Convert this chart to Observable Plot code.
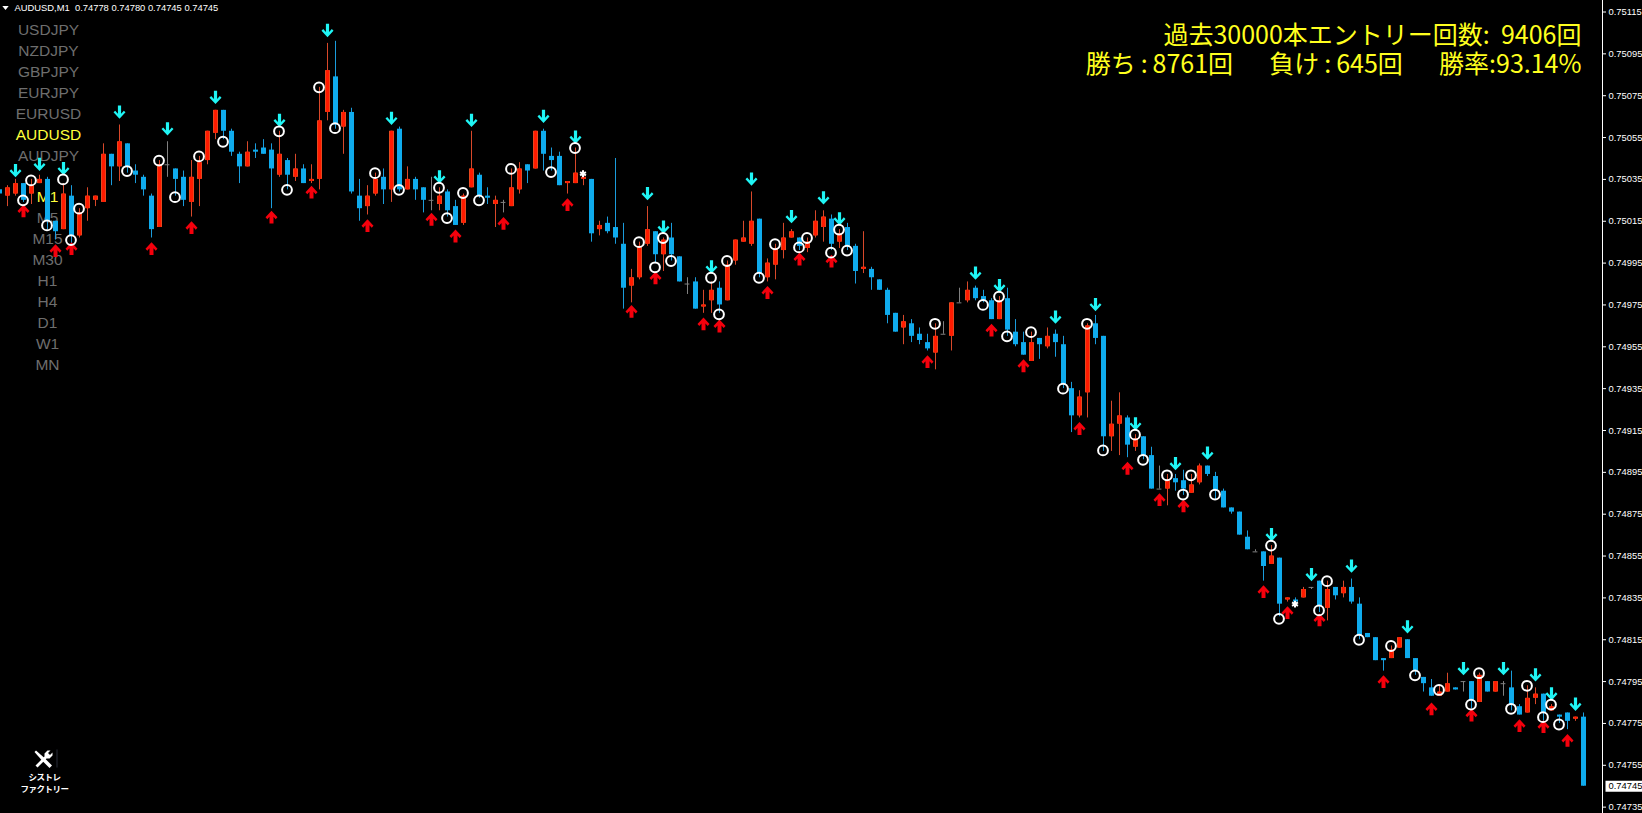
<!DOCTYPE html>
<html><head><meta charset="utf-8">
<script src="https://cdn.jsdelivr.net/npm/d3@7"></script>
<script src="https://cdn.jsdelivr.net/npm/@observablehq/plot@0.6"></script>
<style>html,body{margin:0;padding:0;background:#000;overflow:hidden}svg{display:block}</style>
</head><body><div id="chart"></div>
<script>
// Prices in points (1 point = 0.00001). First bar is number -1 (cut by the left edge).
const firstBar = -1;
const openPts = [75030,
75027,75028,75033,75028,75033,75035,75015,75011,75027,75008,
75021,75025,75024,75047,75041,75052,75039,75036,75027,75012,
75042,75040,75036,75024,75035,75044,75057,75068,75058,75047,
75041,75049,75050,75049,75037,75044,75036,75040,75034,75035,
75067,75084,75060,75067,75027,75022,75028,75036,75030,75059,
75030,75035,75031,75025,75023,75029,75022,75014,75031,75037,
75027,75023,75024,75022,75030,75042,75040,75058,75046,75046,
75033,75033,75035,75035,75011,75014,75012,75004,74984,74988,
75004,75010,74999,75007,74998,74985,74986,74974,74977,74983,
74977,74996,75005,75004,75016,74988,74994,75001,75007,75007,
75002,75008,75012,75016,75005,75012,75003,74992,74992,74987,
74982,74971,74964,74966,74961,74957,74952,74961,74960,74976,
74977,74983,74979,74977,74968,74978,74962,74957,74948,74959,
74955,74961,74956,74935,74922,74933,74966,74960,74912,74918,
74921,74907,74912,74903,74887,74887,74892,74891,74885,74890,
74898,74893,74886,74878,74876,74864,74857,74857,74851,74854,
74834,74834,74835,74840,74843,74830,74840,74837,74840,74832,
74818,74816,74806,74806,74811,74815,74806,74797,74792,74788,
74790,74792,74795,74795,74785,74795,74790,74794,74792,74783,
74780,74787,74789,74781,74779,74780,74777,74778];
const highPts = [75030,
75032,75035,75033,75035,75037,75036,75015,75033,75032,75021,
75031,75027,75052,75047,75061,75052,75042,75037,75028,75044,
75053,75040,75039,75044,75046,75058,75068,75068,75059,75048,
75053,75052,75054,75052,75058,75045,75047,75042,75042,75079,
75100,75101,75068,75069,75035,75032,75038,75040,75058,75060,
75041,75036,75031,75036,75031,75030,75025,75028,75058,75038,
75031,75027,75025,75040,75043,75042,75058,75059,75050,75048,
75034,75050,75039,75035,75015,75017,75045,75014,74992,75005,
75022,75010,75007,75014,74998,74988,74988,74982,74986,74986,
74996,75006,75015,75029,75016,74997,75004,75014,75011,75007,
75007,75020,75020,75018,75011,75014,75004,75010,74993,74987,
74983,74971,74970,74968,74964,74961,74966,74967,74976,74983,
74986,74984,74982,74978,74979,74983,74968,74962,74962,74959,
74964,74963,74960,74938,74934,74966,74970,74960,74929,74933,
74922,74913,74912,74907,74898,74894,74894,74896,74894,74899,
74898,74895,74887,74878,74876,74867,74858,74857,74860,74854,
74835,74835,74840,74840,74843,74843,74840,74843,74844,74835,
74818,74816,74806,74812,74816,74815,74806,74797,74796,74793,
74799,74792,74795,74795,74799,74795,74795,74795,74800,74784,
74793,74792,74789,74784,74779,74780,74778,74780];
const lowPts = [75028,
75022,75027,75024,75023,75033,75011,75006,75011,75004,75007,
75015,75022,75024,75032,75034,75038,75033,75027,75007,75012,
75036,75027,75022,75017,75022,75042,75054,75054,75046,75033,
75041,75045,75047,75021,75036,75030,75034,75033,75033,75030,
75063,75059,75047,75028,75015,75018,75027,75023,75024,75029,
75030,75025,75019,75020,75020,75017,75013,75013,75031,75026,
75023,75012,75019,75022,75028,75033,75040,75039,75039,75032,
75028,75033,75032,75005,75008,75009,75004,74973,74976,74987,
75003,74995,74991,74996,74986,74980,74973,74971,74971,74971,
74977,74994,75005,75003,74988,74986,74987,74997,75007,75001,
75000,75007,75005,75001,75002,75001,74985,74990,74982,74982,
74966,74962,74956,74957,74956,74953,74944,74961,74953,74976,
74976,74977,74976,74968,74968,74960,74955,74951,74948,74949,
74954,74950,74935,74914,74921,74921,74956,74905,74905,74903,
74902,74905,74901,74887,74887,74879,74886,74884,74885,74889,
74893,74882,74878,74875,74865,74858,74857,74843,74851,74826,
74833,74831,74835,74839,74828,74824,74834,74835,74832,74815,
74816,74805,74800,74806,74811,74806,74798,74790,74788,74788,
74790,74791,74790,74782,74785,74790,74790,74788,74781,74779,
74780,74784,74776,74781,74775,74772,74776,74745];
const closePts = [75028,
75031,75033,75025,75032,75035,75015,75010,75028,75008,75019,
75027,75027,75047,75041,75053,75041,75037,75030,75011,75042,
75042,75035,75025,75036,75043,75058,75068,75058,75048,75041,
75048,75048,75047,75040,75047,75037,75040,75033,75035,75063,
75087,75061,75067,75029,75021,75027,75035,75030,75058,75030,
75035,75030,75025,75025,75027,75020,75013,75027,75040,75027,
75026,75025,75024,75031,75040,75039,75058,75047,75044,75032,
75034,75038,75036,75009,75013,75010,75007,74983,74988,75003,
75011,74999,75006,74999,74986,74985,74973,74975,74982,74975,
74994,75006,75007,75015,74990,74995,75002,75007,75010,75003,
75005,75015,75017,75004,75009,75003,74991,74993,74988,74982,
74970,74962,74967,74960,74958,74954,74960,74961,74976,74976,
74982,74978,74977,74968,74977,74963,74956,74951,74957,74956,
74960,74957,74937,74922,74931,74965,74959,74912,74918,74922,
74908,74911,74903,74887,74887,74891,74890,74887,74889,74898,
74894,74886,74878,74876,74865,74858,74857,74850,74855,74832,
74835,74833,74839,74840,74831,74839,74836,74840,74833,74817,
74816,74805,74805,74810,74816,74806,74800,74794,74788,74790,
74794,74791,74795,74786,74798,74790,74795,74794,74784,74779,
74787,74789,74780,74783,74778,74776,74778,74745];

// Signals: [bar, price in points]
const downArrows = [[1,75039],[4,75042],[7,75040],[14,75067],[20,75059],[26,75074],[34,75063],[40,75106],[48,75064],
[54,75036],[58,75063],[67,75065],[71,75055],[80,75028],[82,75012],[88,74993],[93,75035],[98,75017],
[102,75026],[104,75016],[121,74990],[124,74984],[131,74969],[136,74975],[141,74918],[146,74899],[150,74904],
[158,74865],[163,74846],[168,74850],[175,74821],[182,74801],[187,74801],[191,74798],[193,74789],[196,74784]];
const upArrows = [[2,75020],[6,75001],[8,75002],[18,75002],[23,75012],[33,75017],[38,75029],[45,75013],
[53,75016],[56,75008],[62,75014],[70,75023],[78,74972],[81,74988],[87,74966],[89,74965],[95,74981],[99,74997],
[103,74996],[115,74948],[123,74963],[127,74946],[134,74916],[140,74897],[144,74882],[147,74879],
[157,74838],[160,74828],[164,74824.5],[172,74795],[178,74782],[183,74779],[189,74774],[192,74773.5],[195,74767]];
const circles = [[2,75025],[3,75034.5],[5,75013],[7,75035],[8,75006],[9,75021],[15,75039],[19,75044],[21,75026.5],[24,75046],
[27,75053],[34,75058],[35,75030],[39,75079],[41,75059.5],[46,75038],[49,75030],
[54,75031],[55,75016.5],[57,75028.5],[59,75025],[63,75040],[68,75038.5],[71,75050],[79,75005],[81,74993],[82,75007],
[83,74996],[88,74988],[89,74970.5],[90,74996],[94,74988],[96,75004],[99,75002.5],[100,75007],
[103,75000],[104,75011],[105,75001],[116,74966],[122,74975],[124,74979],[125,74960],[128,74962],[132,74935],[135,74966],
[137,74905.5],[141,74913],[142,74901],[145,74893.6],[147,74884.4],[148,74893.6],[151,74884.4],
[158,74860],[159,74825],[164,74829],[165,74843],[169,74815],[173,74812],[176,74798],[179,74791],[183,74784],[184,74799],
[188,74782],[190,74793],[192,74778],[193,74784],[194,74774.5]];
const stars = [[72,75037.7],[161,74832]];

const priceTicks = [75115,75095,75075,75055,75035,75015,74995,74975,74955,74935,74915,74895,74875,74855,74835,74815,74795,74775,74755,74735];
const lastPrice = 74745;
const symbolNames = ["USDJPY","NZDJPY","GBPJPY","EURJPY","EURUSD","AUDUSD","AUDJPY"];
const periodNames = ["M1","M5","M15","M30","H1","H4","D1","W1","MN"];
const activeNames = ["AUDUSD","M1"];
const chartTitle = "AUDUSD,M1\u00a0\u00a00.74778 0.74780 0.74745 0.74745";
const statLine1 = "過去30000本エントリー回数:\u00a0\u00a09406回";
const statLine2 = "勝ち\u2009:\u20098761回\u3000 \u00a0負け\u2009:\u2009645回\u3000 \u00a0勝率:93.14%";
const logoLines = ["シストレ","ファクトリー"];

const BLUE="#0fabed", BLUEW="#1a9cdc", RED="#ff1a00", REDE="#e8481e", REDW="#d8482a", GRAY="#808080";
const P = v => v/1e5;
const bars = openPts.map((o,i)=>({k:i+firstBar,o:P(o),h:P(highPts[i]),l:P(lowPts[i]),c:P(closePts[i])}));
const ups = bars.filter(b=>b.c>b.o), downs = bars.filter(b=>b.c<b.o), dojis = bars.filter(b=>b.c===b.o);
const pt = ([k,p])=>({k,p:P(p)});

function poly(pts){return {draw(ctx){pts.forEach(([x,y],i)=>i?ctx.lineTo(x,y):ctx.moveTo(x,y));ctx.closePath();}};}
const arrowDown=poly([[1.6,-7],[1.6,1.2],[4.3,-1.8],[6,-0.1],[0,6.3],[-6,-0.1],[-4.3,-1.8],[-1.6,1.2],[-1.6,-7]]);
const arrowUp=poly([[2,6.5],[2,-0.3],[4.2,2.2],[6,0.2],[0,-6.3],[-6,0.2],[-4.2,2.2],[-2,-0.3],[-2,6.5]]);
const menuTri=poly([[-3.2,-2],[3.2,-2],[0,2]]);
const tagBox=poly([[-18.5,-5.5],[18.5,-5.5],[18.5,5.5],[-18.5,5.5]]);
const logoA=poly([[-9,-7.5],[-7.5,-9],[1,-1.5],[8.5,6],[6,8.5],[-1.5,1]]);
const logoB=poly([[-8,6],[-6,8],[3,-1],[6,-1],[9,-4],[9,-7],[6.5,-4.5],[4.5,-6.5],[7,-9],[4,-9],[1,-6],[1,-3]]);
const logoBar=poly([[-1,-9],[1,-9],[1,9],[-1,9]]);

const SANS='"Liberation Sans",Arial,sans-serif', CJK='"Noto Sans CJK JP",sans-serif';
const label=(s,dx,dy,color,o={})=>Plot.text([s],{text:d=>d,frameAnchor:"top-left",lineAnchor:"middle",textAnchor:"middle",dx,dy,fill:color,fontFamily:SANS,fontSize:15.5,...o});
const sideColor=s=>activeNames.includes(s)?"#ffff3c":"#6e6e6e";

const marks=[
  Plot.frame({anchor:"right",stroke:"#fff"}),
  ...symbolNames.map((s,i)=>label(s,48,30+i*21,sideColor(s))),
  ...periodNames.map((s,i)=>label(s,47,197+i*20.9,sideColor(s))),
  // wicks
  Plot.ruleX(downs,{x:"k",y1:"l",y2:"h",stroke:BLUEW}),
  Plot.ruleX(ups,{x:"k",y1:"l",y2:"h",stroke:REDW}),
  Plot.ruleX(dojis,{x:"k",y1:"l",y2:"h",stroke:GRAY}),
  // bodies
  Plot.ruleX(downs,{x:"k",y1:"o",y2:"c",stroke:BLUE,strokeWidth:5}),
  Plot.ruleX(ups,{x:"k",y1:"o",y2:"c",stroke:REDE,strokeWidth:5}),
  Plot.ruleX(ups,{x:"k",y1:"o",y2:"c",stroke:RED,strokeWidth:3}),
  Plot.ruleY(dojis,{y:"o",x1:d=>d.k-0.3,x2:d=>d.k+0.3,stroke:GRAY}),
  // signals
  Plot.dot(downArrows.map(pt),{x:"k",y:"p",symbol:arrowDown,fill:"#1ff5f5",r:6}),
  Plot.dot(upArrows.map(pt),{x:"k",y:"p",symbol:arrowUp,fill:"#f5000c",r:6}),
  Plot.dot(circles.map(pt),{x:"k",y:"p",r:4.9,stroke:"#fff",strokeWidth:2,fill:"none",dx:-0.5}),
  Plot.dot(stars.map(pt),{x:"k",y:"p",symbol:"asterisk",r:3.2,stroke:"#fff",strokeWidth:2,dx:-0.5}),
  // axis
  Plot.axisY(priceTicks.map(P),{anchor:"right",tickSize:3,tickPadding:3,tickFormat:d3.format(".5f"),color:"#fff",fontSize:9.4,fontFamily:SANS,label:null}),
  Plot.dot([P(lastPrice)],{y:d=>d,frameAnchor:"right",dx:21.5,symbol:tagBox,fill:"#fff",r:6}),
  Plot.text([P(lastPrice)],{y:d=>d,text:d3.format(".5f"),frameAnchor:"right",dx:6,textAnchor:"start",fill:"#000",fontSize:9.4,fontFamily:SANS}),
  // header
  Plot.dot([0],{frameAnchor:"top-left",dx:5,dy:7.5,symbol:menuTri,fill:"#fff",r:3}),
  label(chartTitle,14,7.5,"#fff",{textAnchor:"start",fontSize:9.4}),
  label(statLine1,1581,35.5,"#ffff1e",{textAnchor:"end",fontFamily:CJK,fontSize:25}),
  label(statLine2,1581,64.5,"#ffff1e",{textAnchor:"end",fontFamily:CJK,fontSize:25}),
  // logo
  Plot.dot([0],{frameAnchor:"top-left",dx:43,dy:759,symbol:logoA,fill:"#fff",r:8}),
  Plot.dot([0],{frameAnchor:"top-left",dx:43,dy:759,symbol:logoB,fill:"#fff",r:8}),
  Plot.dot([0],{frameAnchor:"top-left",dx:56.5,dy:758,symbol:logoBar,fill:"#14161c",r:8}),
  ...logoLines.map((s,i)=>label(s,44,776.5+i*12.5,"#fff",{fontFamily:CJK,fontWeight:"bold",fontSize:8.5}))
];

const chart=Plot.plot({
  width:1642,height:813,marginLeft:0,marginRight:40,marginTop:0,marginBottom:0,
  style:{background:"#000",overflow:"hidden"},
  x:{domain:[-7/8,1595/8],axis:null},
  y:{domain:[P(74731.96),P(75120.5)],axis:null},
  marks
});
chart.querySelectorAll("text").forEach(t=>{ if(logoLines.includes(t.textContent)) t.style.letterSpacing="-0.5px"; });
document.getElementById("chart").append(chart);
</script>
</body></html>
